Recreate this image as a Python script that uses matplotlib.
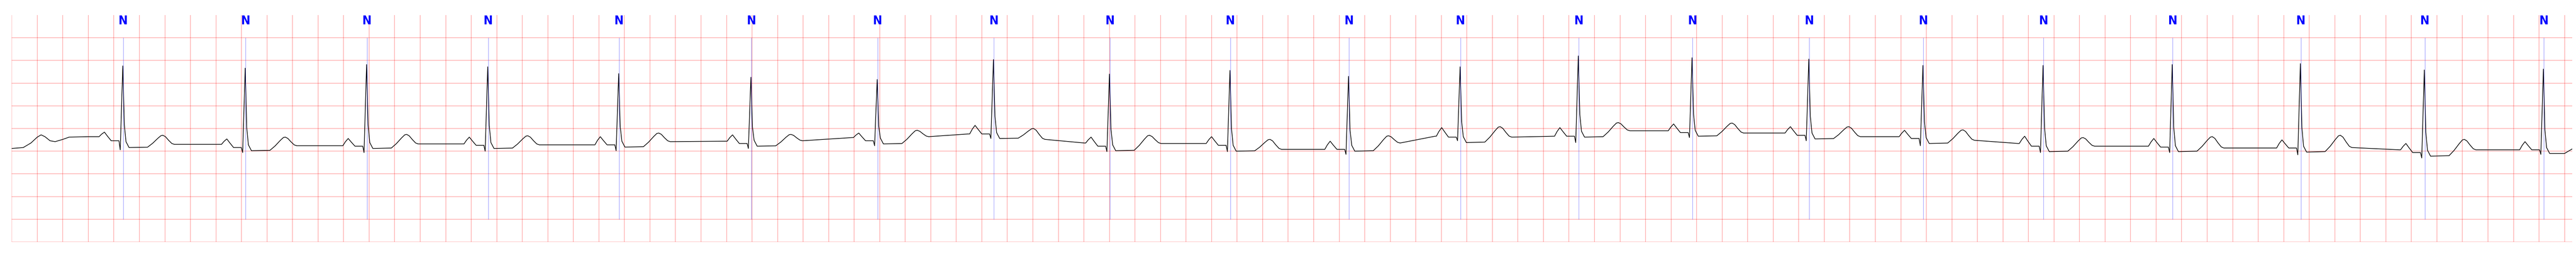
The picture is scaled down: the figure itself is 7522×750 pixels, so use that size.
import numpy as np
import matplotlib
matplotlib.use("Agg")
import matplotlib.pyplot as plt

ann_times = [0.874, 1.833, 2.784, 3.733, 4.759, 5.795, 6.784, 7.695, 8.604, 9.548,
             10.477, 11.351, 12.277, 13.168, 14.083, 14.977, 15.918, 16.930, 17.934,
             18.905, 19.838]
ann_labels = ["N"] * len(ann_times)

r_amp = [1.38, 1.33, 1.41, 1.36, 1.21, 1.13, 1.08, 1.52, 1.20, 1.28, 1.15, 1.36, 1.60,
         1.56, 1.53, 1.39, 1.39, 1.41, 1.43, 1.29, 1.31]
q_amp = [-0.47, -0.53, -0.53, -0.50, -0.49, -0.44, -0.38, -0.22, -0.51, -0.51, -0.57,
         -0.27, -0.31, -0.20, -0.27, -0.38, -0.53, -0.53, -0.58, -0.65, -0.57]
p_amp = [-0.08, -0.23, -0.22, -0.19, -0.18, -0.14, -0.10, 0.07, -0.19, -0.18, -0.28,
         0.02, 0.02, 0.10, 0.04, -0.04, -0.17, -0.22, -0.25, -0.33, -0.29]
pr_lvl = [-0.27, -0.42, -0.39, -0.37, -0.36, -0.33, -0.27, -0.12, -0.39, -0.37, -0.46,
          -0.19, -0.17, -0.09, -0.15, -0.22, -0.39, -0.41, -0.43, -0.53, -0.47]
st_lvl = [-0.42, -0.49, -0.44, -0.44, -0.41, -0.39, -0.34, -0.22, -0.49, -0.50, -0.50,
          -0.31, -0.19, -0.17, -0.23, -0.33, -0.51, -0.51, -0.52, -0.61, -0.55]
t_amp = [-0.15, -0.19, -0.13, -0.16, -0.10, -0.13, -0.04, 0.00, -0.15, -0.24, -0.16,
         0.04, 0.13, 0.12, 0.04, -0.03, -0.20, -0.18, -0.15, -0.24]
tp_start = [-0.35, -0.38, -0.34, -0.36, -0.29, -0.27, -0.18, -0.24, -0.33, -0.46, -0.32,
            -0.19, -0.05, -0.10, -0.18, -0.26, -0.39, -0.43, -0.42, -0.47]
tp_end = [-0.35, -0.38, -0.34, -0.36, -0.28, -0.20, -0.12, -0.32, -0.33, -0.46, -0.17,
          -0.17, -0.05, -0.10, -0.18, -0.33, -0.39, -0.43, -0.47, -0.47]

# trace before the first beat (tail of previous T wave) and after the last one
head_t = [0.0, 0.09, 0.15, 0.20, 0.23, 0.26, 0.30, 0.34, 0.40, 0.45, 0.60]
head_v = [-0.44, -0.42, -0.32, -0.19, -0.14, -0.18, -0.27, -0.29, -0.24, -0.19, -0.18]
tail_t = [20.0, 20.06]
tail_v = [-0.55, -0.45]

# wave shape read from the first beats: offsets (s) from annotation
P_SHAPE = [(-0.19, 0.0), (-0.17, 0.55), (-0.148, 1.0), (-0.125, 0.55), (-0.095, 0.0)]
T_RISE = [(0.19, 0.03), (0.23, 0.35), (0.27, 0.75), (0.295, 0.97), (0.31, 1.0)]
T_FALL = [(0.33, 0.85), (0.355, 0.45), (0.38, 0.1), (0.40, 0.0)]

t_pts = list(head_t)
v_pts = list(head_v)
prev_base = head_v[-1]
for i, ta in enumerate(ann_times):
    # P wave
    for dt, f in P_SHAPE[:3]:
        t_pts.append(ta + dt)
        v_pts.append(prev_base + f * (p_amp[i] - prev_base))
    for dt, f in P_SHAPE[3:]:
        t_pts.append(ta + dt)
        v_pts.append(pr_lvl[i] + f * (p_amp[i] - pr_lvl[i]))
    # QRS
    st = st_lvl[i]
    t_pts += [ta - 0.034, ta - 0.024, ta - 0.004, ta + 0.008, ta + 0.021, ta + 0.045]
    v_pts += [pr_lvl[i], q_amp[i], r_amp[i], st + 0.28 * (r_amp[i] - st), st + 0.13, st]
    if i >= len(t_amp):
        break
    # ST + T wave
    for dt, f in T_RISE:
        t_pts.append(ta + dt)
        v_pts.append(st + f * (t_amp[i] - st))
    for dt, f in T_FALL:
        t_pts.append(ta + dt)
        v_pts.append(tp_start[i] + f * (t_amp[i] - tp_start[i]))
    prev_base = tp_end[i]
    t_pts.append(ann_times[i + 1] - 0.2)
    v_pts.append(prev_base)
t_pts += tail_t
v_pts += tail_v

fig = plt.figure(figsize=(75.22, 7.5), dpi=100)
ax = fig.add_axes([34.3 / 7522, 44 / 750, (7511 - 34.3) / 7522, 662 / 750])

ax.plot(t_pts, v_pts, color="black", lw=1.4)
ax.vlines(ann_times, -2.0, 2.0, color="blue", alpha=0.5, lw=0.8)
for ta, lab in zip(ann_times, ann_labels):
    ax.text(ta, 2.5, lab, ha="center", va="top", color="blue",
            fontsize=26, fontweight="bold", fontstretch="condensed")

ax.set_xlim(0, 20.06)
ax.set_ylim(-2.5, 2.5)
ax.set_xticks(np.arange(0, 20.01, 0.2))
ax.set_yticks(np.arange(-2.5, 2.01, 0.5))
ax.grid(True, color="red", alpha=0.3, lw=1.5)
ax.tick_params(length=0, labelbottom=False, labelleft=False)
for s in ax.spines.values():
    s.set_visible(False)

fig.savefig("out.png", dpi=100)
